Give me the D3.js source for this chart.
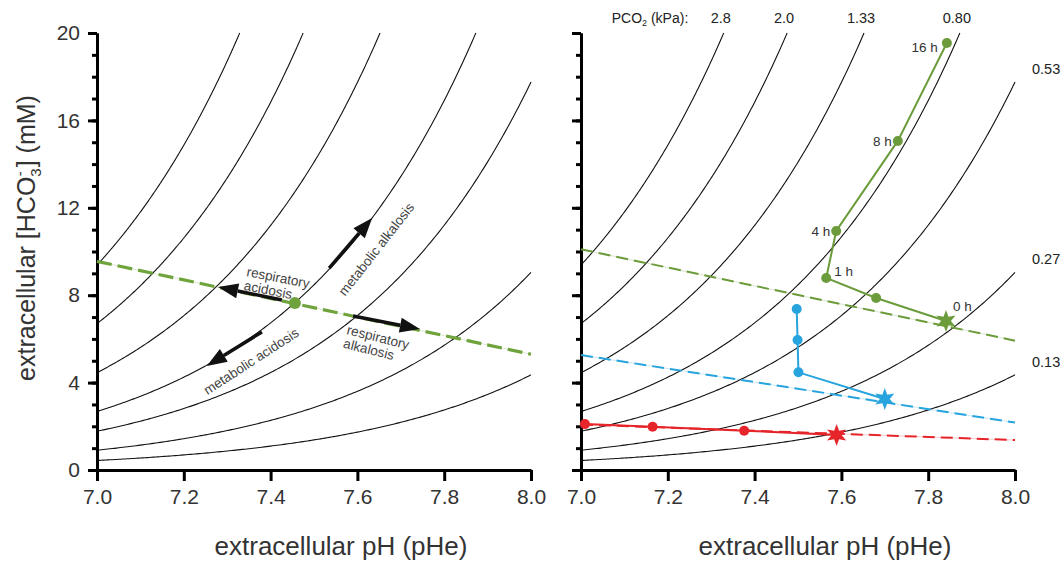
<!DOCTYPE html>
<html>
<head>
<meta charset="utf-8">
<script src="https://cdn.jsdelivr.net/npm/d3@7"></script>
<style>
  body { margin: 0; background: #fff; }
  svg { font-family: Arial, "Liberation Sans", sans-serif; }
</style>
</head>
<body>
<svg id="chart" width="1064" height="563"></svg>
<script>
// PCO2 isopleths (kPa) and the constant of the Henderson-Hasselbalch relation
// [HCO3-] = k * PCO2 * 10^(pH - 7)
const pco2Levels = [2.8, 2.0, 1.33, 0.80, 0.53, 0.27, 0.13];
const pco2Labels = ['2.8', '2.0', '1.33', '0.80', '0.53', '0.27', '0.13'];
const kHH = 3.35;

const xTicks = [7.0, 7.2, 7.4, 7.6, 7.8, 8.0];
const yMajor = [0, 4, 8, 12, 16, 20];
const yMinor = d3.range(0, 21, 1);

// left panel: buffer line, normal point and the four disturbances
const leftBuffer = [[7.0, 9.55], [8.0, 5.3]];
const leftPoint = [7.456, 7.64];
const arrows = [
  { name: 'respiratory acidosis', from: [7.426, 7.78], to: [7.279, 8.38] },
  { name: 'respiratory alkalosis', from: [7.590, 7.05], to: [7.744, 6.45] },
  { name: 'metabolic alkalosis', from: [7.535, 9.24], to: [7.634, 11.53] },
  { name: 'metabolic acidosis', from: [7.380, 6.32], to: [7.253, 4.76] }
];

// right panel: time courses (pH, HCO3)
const greenBuffer = [[7.0, 10.1], [8.0, 5.92]];
const blueBuffer = [[7.0, 5.26], [8.0, 2.17]];
const redBuffer = [[7.0, 2.08], [8.0, 1.37]];

const greenPH = [7.841, 7.680, 7.565, 7.588, 7.730, 7.843];
const greenHCO3 = [6.82, 7.87, 8.79, 10.94, 15.06, 19.54];
const greenTimes = ['0 h', '', '1 h', '4 h', '8 h', '16 h'];

const bluePH = [7.700, 7.501, 7.499, 7.497];
const blueHCO3 = [3.25, 4.47, 5.95, 7.37];

const redPH = [7.589, 7.376, 7.165, 7.009];
const redHCO3 = [1.60, 1.80, 1.98, 2.10];

const GREEN = '#6b9b3a', BLUE = '#27a4dd', RED = '#e5252a';

const svg = d3.select('#chart');
const y = d3.scaleLinear().domain([0, 20]).range([470, 33]);

function star(r) {
  const pts = [];
  for (let i = 0; i < 12; i++) {
    const a = Math.PI / 6 * i - Math.PI / 2;
    const rr = i % 2 === 0 ? r : r * 0.45;
    pts.push([rr * Math.cos(a), rr * Math.sin(a)]);
  }
  return 'M' + pts.map(p => p.join(',')).join('L') + 'Z';
}

function drawPanel(x0, showYLabels) {
  const x = d3.scaleLinear().domain([7, 8]).range([x0, x0 + 434]);
  const g = svg.append('g');

  // isopleths
  const line = d3.line().x(d => x(d[0])).y(d => y(d[1]));
  pco2Levels.forEach(p => {
    const phTop = Math.min(8, 7 + Math.log10(20 / (kHH * p)));
    const pts = d3.range(0, 201).map(i => {
      const ph = 7 + (phTop - 7) * i / 200;
      return [ph, kHH * p * Math.pow(10, ph - 7)];
    });
    g.append('path').attr('d', line(pts))
      .attr('fill', 'none').attr('stroke', '#111').attr('stroke-width', 1.1);
  });

  // axes
  const minor = g.append('g').attr('transform', `translate(${x0},0)`)
    .call(d3.axisLeft(y).tickValues(yMinor).tickSize(5).tickSizeOuter(0).tickFormat(''));
  const major = g.append('g').attr('transform', `translate(${x0},0)`)
    .call(d3.axisLeft(y).tickValues(yMajor).tickSize(9).tickSizeOuter(0).tickPadding(8)
      .tickFormat(showYLabels ? d3.format('d') : ''));
  const xa = g.append('g').attr('transform', 'translate(0,470)')
    .call(d3.axisBottom(x).tickValues(xTicks).tickSize(11).tickSizeOuter(0).tickPadding(8)
      .tickFormat(d3.format('.1f')));
  [minor, major, xa].forEach(a => {
    a.selectAll('path.domain').attr('stroke', '#000').attr('stroke-width', 3);
    a.selectAll('.tick line').attr('stroke', '#000').attr('stroke-width', 3);
    a.selectAll('.tick text').attr('font-size', 21).attr('fill', '#333')
      .attr('font-family', 'Arial, "Liberation Sans", sans-serif');
  });

  g.append('text').attr('x', x0 + 244).attr('y', 555)
    .attr('text-anchor', 'middle').attr('font-size', 26).attr('fill', '#333')
    .text('extracellular pH (pHe)');
  return { g, x };
}

function dashed(g, x, pts, color, w, dash) {
  const l = d3.line().x(d => x(d[0])).y(d => y(d[1]));
  g.append('path').attr('d', l(pts)).attr('fill', 'none')
    .attr('stroke', color).attr('stroke-opacity', 0.25).attr('stroke-width', 1);
  g.append('path').attr('d', l(pts)).attr('fill', 'none')
    .attr('stroke', color).attr('stroke-width', w).attr('stroke-dasharray', dash);
}

// ---- left panel
const L = drawPanel(97, true);
dashed(L.g, L.x, leftBuffer, '#6fa33c', 3.2, '15,6');

arrows.forEach(a => {
  const x1 = L.x(a.from[0]), y1 = y(a.from[1]);
  const x2 = L.x(a.to[0]), y2 = y(a.to[1]);
  const ang = Math.atan2(y2 - y1, x2 - x1);
  const hl = 20, hw = 7.5;
  const bx = x2 - hl * Math.cos(ang), by = y2 - hl * Math.sin(ang);
  L.g.append('line').attr('x1', x1).attr('y1', y1).attr('x2', bx).attr('y2', by)
    .attr('stroke', '#111').attr('stroke-width', 3.5);
  const px = -Math.sin(ang) * hw, py = Math.cos(ang) * hw;
  L.g.append('path')
    .attr('d', `M${x2},${y2}L${bx + px},${by + py}L${bx - px},${by - py}Z`)
    .attr('fill', '#111');
});

L.g.append('circle').attr('cx', L.x(leftPoint[0])).attr('cy', y(leftPoint[1]))
  .attr('r', 6).attr('fill', '#6fa33c');

const annot = [
  { lines: ['respiratory', 'acidosis'], x: 246, y: 276, rot: 11, anchor: 'start' },
  { lines: ['respiratory', 'alkalosis'], x: 346, y: 334, rot: 14, anchor: 'start' },
  { lines: ['metabolic alkalosis'], x: 376, y: 249, rot: -52, anchor: 'middle' },
  { lines: ['metabolic acidosis'], x: 251, y: 361, rot: -33, anchor: 'middle' }
];
annot.forEach(a => {
  const t = L.g.append('text')
    .attr('transform', `translate(${a.x},${a.y}) rotate(${a.rot})`)
    .attr('text-anchor', a.anchor).attr('font-size', 13.5).attr('fill', '#444');
  a.lines.forEach((s, i) => {
    t.append('tspan').attr('x', 0).attr('y', a.anchor === 'start' ? i * 14 : 5).text(s);
  });
});

// y title
const yt = svg.append('text').attr('transform', 'translate(35,238) rotate(-90)')
  .attr('text-anchor', 'middle').attr('font-size', 25).attr('fill', '#333');
yt.append('tspan').text('extracellular [HCO');
yt.append('tspan').attr('font-size', 15).attr('dy', 6).text('3');
yt.append('tspan').attr('font-size', 15).attr('dy', -16).attr('dx', -8).text('-');
yt.append('tspan').attr('dy', 10).attr('dx', 4).text('] (mM)');

// ---- right panel
const R = drawPanel(581, false);
dashed(R.g, R.x, greenBuffer, GREEN, 2, '12,6');
dashed(R.g, R.x, blueBuffer, BLUE, 2, '12,6');
dashed(R.g, R.x, redBuffer, RED, 2, '12,6');

function series(phs, hco3s, color) {
  const pts = phs.map((p, i) => [p, hco3s[i]]);
  const l = d3.line().x(d => R.x(d[0])).y(d => y(d[1]));
  R.g.append('path').attr('d', l(pts)).attr('fill', 'none')
    .attr('stroke', color).attr('stroke-width', 2);
  pts.slice(1).forEach(d => {
    R.g.append('circle').attr('cx', R.x(d[0])).attr('cy', y(d[1])).attr('r', 5).attr('fill', color);
  });
  R.g.append('path').attr('d', star(11))
    .attr('transform', `translate(${R.x(pts[0][0])},${y(pts[0][1])})`)
    .attr('fill', color);
  return pts;
}
const gp = series(greenPH, greenHCO3, GREEN);
series(bluePH, blueHCO3, BLUE);
series(redPH, redHCO3, RED);

// time labels
const timeOffsets = [[7, -15, 'start'], null, [8, -7, 'start'], [-6, 0, 'end'], [-6, 0, 'end'], [-9, 4, 'end']];
gp.forEach((d, i) => {
  if (!greenTimes[i]) return;
  const o = timeOffsets[i];
  R.g.append('text').attr('x', R.x(d[0]) + o[0]).attr('y', y(d[1]) + o[1] + 5)
    .attr('text-anchor', o[2]).attr('font-size', 13.5).attr('fill', '#333')
    .text(greenTimes[i]);
});

// PCO2 labels
const pl = svg.append('text').attr('x', 650).attr('y', 23).attr('text-anchor', 'middle')
  .attr('font-size', 14).attr('fill', '#222');
pl.append('tspan').text('PCO');
pl.append('tspan').attr('font-size', 9).attr('dy', 3).text('2');
pl.append('tspan').attr('dy', -3).text(' (kPa):');

pco2Levels.forEach((p, i) => {
  const phTop = 7 + Math.log10(20 / (kHH * p));
  if (phTop < 8) {
    svg.append('text').attr('x', R.x(phTop) - 3).attr('y', 23).attr('text-anchor', 'middle')
      .attr('font-size', 14.5).attr('fill', '#222').text(pco2Labels[i]);
  } else {
    const h = kHH * p * 10;
    svg.append('text').attr('x', 1032).attr('y', y(h) - 8).attr('text-anchor', 'start')
      .attr('font-size', 14.5).attr('fill', '#222').text(pco2Labels[i]);
  }
});
</script>
</body>
</html>
